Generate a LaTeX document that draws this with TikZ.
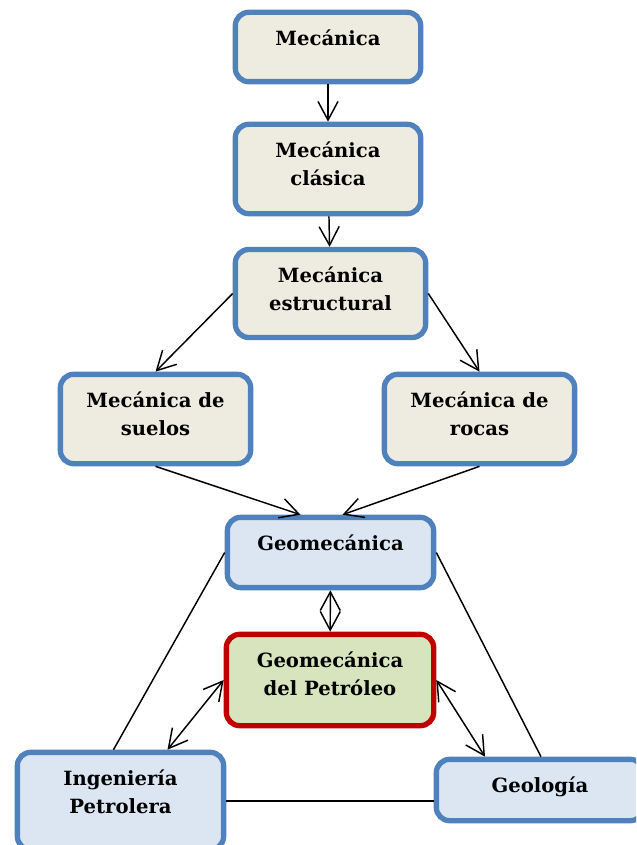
\documentclass[tikz,border=0pt]{standalone}
\usepackage{fontspec}
\setmainfont{DejaVu Serif}
\usetikzlibrary{arrows.meta,calc}

\definecolor{borde}{HTML}{4F81BD}
\definecolor{beige}{HTML}{EEECE1}
\definecolor{celeste}{HTML}{DCE6F2}
\definecolor{verde}{HTML}{D7E4BD}
\definecolor{rojo}{HTML}{C00000}

\tikzset{
  caja/.style={draw=borde, line width=4pt, rounded corners=10pt, fill=beige},
  azul/.style={caja, fill=celeste},
  central/.style={caja, draw=rojo, fill=verde},
  txt/.style={anchor=north, yshift=-15pt, inner sep=0pt, align=center,
    font=\bfseries\fontsize{14.7}{21}\selectfont},
  flecha/.style={-{Straight Barb[length=14pt,width=15pt]}, line width=1.1pt},
  doble/.style={{Straight Barb[length=14pt,width=15pt]}-{Straight Barb[length=14pt,width=15pt]}, line width=1.1pt},
  linea/.style={line width=1.1pt}
}

\begin{document}
\begin{tikzpicture}[x=0.75pt,y=-0.75pt]
\useasboundingbox (0,0) rectangle (636,845);
\clip (0,0) rectangle (636,845);

% ramas de la mecanica
\node [caja, minimum width=139pt, minimum height=52pt, label={[txt, name=mec-t]north:Mecánica}] (mec) at (328,47) {};
\node [caja, minimum width=139pt, minimum height=67pt, label={[txt, name=cla-t]north:Mecánica\\clásica}] (cla) at (328,169) {};
\node [caja, minimum width=142.7pt, minimum height=66pt, label={[txt, name=est-t]north:Mecánica\\estructural}] (est) at (330.5,293.5) {};
\node [caja, minimum width=142.7pt, minimum height=67pt, label={[txt, name=sue-t]north:Mecánica de\\suelos}] (sue) at (155.5,419) {};
\node [caja, minimum width=142.7pt, minimum height=67pt, label={[txt, name=roc-t]north:Mecánica de\\rocas}] (roc) at (479.5,419) {};

% geomecanica y sus vecinas
\node [azul, minimum width=154.7pt, minimum height=52.7pt, label={[txt, name=geo-t]north:Geomecánica}] (geo) at (330.5,552.5) {};
\node [central, minimum width=155.5pt, minimum height=68.5pt, label={[txt, name=pet-t]north:Geomecánica\\del Petróleo}] (pet) at (330,680) {};
\node [azul, minimum width=154.7pt, minimum height=73pt, label={[txt, name=ing-t]north:Ingeniería\\Petrolera}] (ing) at (120.5,801) {};
\node [azul, minimum width=155.5pt, minimum height=46pt, label={[txt, name=gel-t]north:Geología}] (gel) at (540,790) {};

\draw [flecha] (mec) -- (cla);
\draw [flecha] (cla) -- (est);
\draw [flecha] (est.west) -- (sue.north);
\draw [flecha] (est.east) -- (roc.north);
\draw [flecha] (sue.south) -- ($(geo.north)+(-30,0)$);
\draw [flecha] (roc.south) -- ($(geo.north)+(12,0)$);

\draw [doble] (geo) -- (pet);
\draw [doble] (pet.west) -- ($(ing.north)+(47,0)$);
\draw [doble] (pet.east) -- ($(gel.north)+(-55,0)$);

\draw [linea] (geo.west) -- ($(ing.north)+(-7,0)$);
\draw [linea] (geo.east) -- ($(gel.north)+(1,0)$);
\draw [linea] (ing.east) -- (ing.east -| gel.west);
\end{tikzpicture}
\end{document}
